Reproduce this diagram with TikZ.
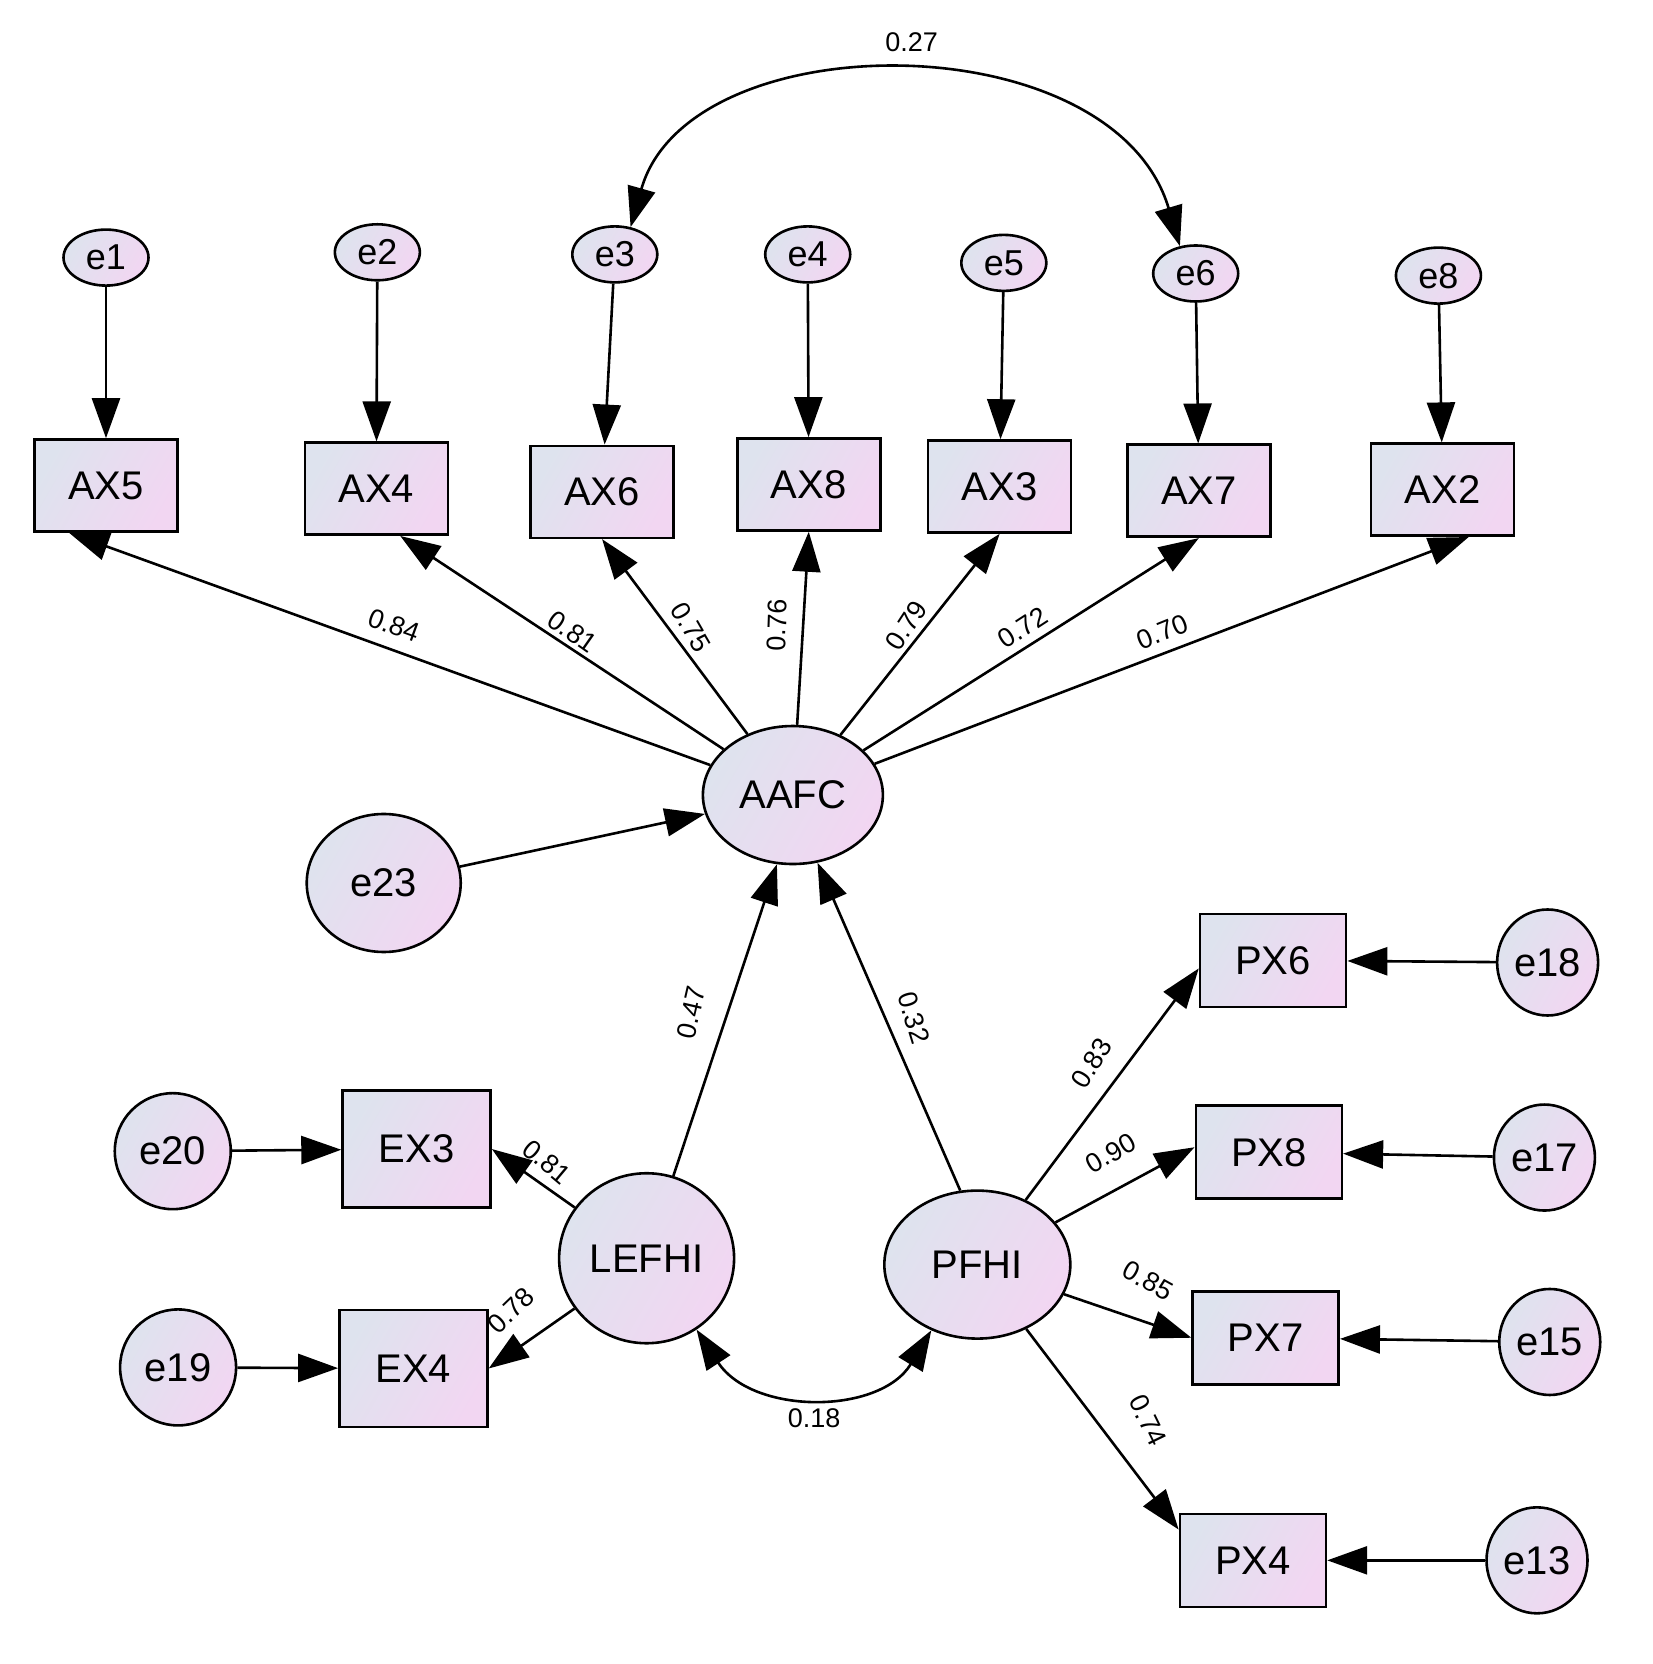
\documentclass[tikz,border=0pt]{standalone}
\usepackage{fontspec}
\setmainfont{Liberation Sans}
\usetikzlibrary{arrows.meta,shapes.geometric}
\definecolor{cA}{HTML}{DEE3EE}
\definecolor{cB}{HTML}{F2D6F2}
\begin{document}
\begin{tikzpicture}[x=1.06pt,y=-1.06pt,
  base/.style={draw=black,line width=2.6pt,left color=cA,right color=cB,shading angle=60,inner sep=0pt,font=\fontsize{40}{44}\selectfont},
  box/.style={base,rectangle,minimum width=143pt,minimum height=92pt},
  el/.style={base,ellipse,minimum width=#1},
  lab/.style={font=\fontsize{27}{30}\selectfont,inner sep=0pt},
  arr/.style={line width=2.6pt,-{Triangle[length=40pt,width=28pt]}},
  darr/.style={line width=2.6pt,{Triangle[length=40pt,width=28pt]}-{Triangle[length=40pt,width=28pt]}}]
\useasboundingbox (0,0) rectangle (1559.4,1569.8);
% errors top
\foreach \n/\x/\y in {e1/100/243,e2/356/238,e3/580/240,e4/762/240,e5/947/248,e6/1128/258,e8/1357/260}
  \node[el=85pt,minimum height=56pt,font=\fontsize{36}{40}\selectfont] (\n) at (\x,\y) {\n};
\foreach \n/\x/\y in {AX5/100/458,AX4/355/461,AX6/568/464,AX8/763/457,AX3/943/459,AX7/1131/463,AX2/1361/462}
  \node[box] (\n) at (\x,\y) {\n};
\node[el=180pt,minimum height=138pt] (AAFC) at (748,750) {AAFC};
\node[el=154pt,minimum height=138pt] (e23) at (362,833) {e23};
\node[el=175pt,minimum height=170pt] (LEFHI) at (610,1187) {LEFHI};
\node[el=186pt,minimum height=148pt] (PFHI) at (922,1193) {PFHI};
\node[box,minimum width=148pt,minimum height=117pt] (EX3) at (393,1084) {EX3};
\node[box,minimum width=148pt,minimum height=117pt] (EX4) at (390,1291) {EX4};
\node[el=116pt,minimum height=116pt] (e20) at (163,1086) {e20};
\node[el=116pt,minimum height=116pt] (e19) at (168,1290) {e19};
\foreach \n/\x/\y in {PX6/1201/906,PX8/1197/1087,PX7/1194/1262,PX4/1182/1472}
  \node[box,minimum width=146pt,minimum height=93pt] (\n) at (\x,\y) {\n};
\foreach \n/\x/\y in {e18/1460/908,e17/1457/1092,e15/1462/1266,e13/1450/1472}
  \node[el=101pt,minimum height=106pt] (\n) at (\x,\y) {\n};
% arrows
\foreach \e/\b in {e1/AX5,e2/AX4,e3/AX6,e4/AX8,e5/AX3,e6/AX7,e8/AX2} \draw[arr] (\e) -- (\b);
\draw[arr] (AAFC) -- ([xshift=-37pt]AX5.south);
\draw[arr] (AAFC) -- ([xshift=24pt]AX4.south);
\foreach \b in {AX6,AX8,AX3,AX7} \draw[arr] (AAFC) -- (\b.south);
\draw[arr] (AAFC) -- ([xshift=26pt]AX2.south);
\draw[arr] (e23) -- (AAFC);
\draw[arr] (LEFHI.72) -- (AAFC.-103);
\draw[arr] (PFHI.103) -- (AAFC.-70);
\draw[arr] (LEFHI) -- (EX3.east);
\draw[arr] (LEFHI) -- (EX4.east);
\draw[arr] (e20) -- (EX3);
\draw[arr] (e19) -- (EX4);
\draw[arr] (PFHI) -- ([yshift=-8pt]PX6.west);
\draw[arr] (PFHI) -- ([yshift=5pt]PX8.west);
\draw[arr] (PFHI) -- (PX7.west);
\draw[arr] (PFHI) -- ([yshift=-17pt]PX4.north west);
\draw[arr] (e18) -- (PX6);
\draw[arr] (e17) -- (PX8);
\draw[arr] (e15) -- (PX7);
\draw[arr] (e13) -- (PX4);
\draw[darr] (e3.60) .. controls (650,20) and (1050,20) .. (e6.120);
\draw[darr] (LEFHI.-55) .. controls (710,1335) and (830,1335) .. (PFHI.-125);
% labels
\node[lab,rotate=-20] (l1) at (372,590) {0.84};
\node[lab,rotate=-35] (l2) at (540,596) {0.81};
\node[lab,rotate=-60] (l3) at (652,592) {0.75};
\node[lab,rotate=88] (l4) at (733,590) {0.76};
\node[lab,rotate=57] (l5) at (855,590) {0.79};
\node[lab,rotate=33] (l6) at (965,592) {0.72};
\node[lab,rotate=22] (l7) at (1097,596) {0.70};
\node[lab] (l8) at (860,40) {0.27};
\node[lab,rotate=77] (l9) at (652,955) {0.47};
\node[lab,rotate=-73] (l10) at (862,960) {0.32};
\node[lab,rotate=58] (l11) at (1030,1003) {0.83};
\node[lab,rotate=30] (l12) at (1048,1088) {0.90};
\node[lab,rotate=-29] (l13) at (1083,1208) {0.85};
\node[lab,rotate=-64] (l14) at (1083,1340) {0.74};
\node[lab,rotate=-40] (l15) at (516,1096) {0.81};
\node[lab,rotate=44] (l16) at (482,1236) {0.78};
\node[lab] (l17) at (768,1338) {0.18};
\end{tikzpicture}
\end{document}
